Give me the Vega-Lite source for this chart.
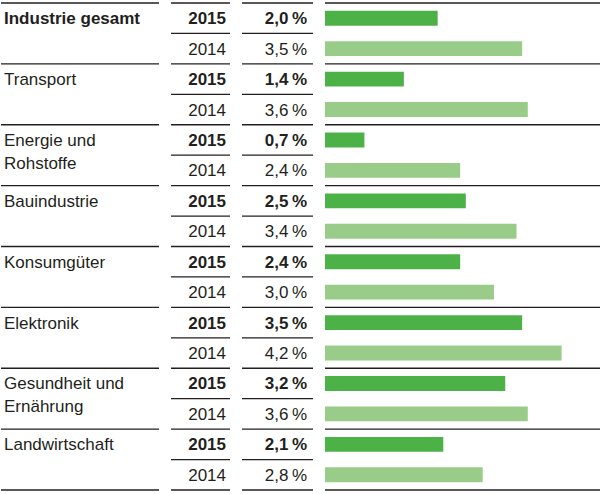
{
  "$schema": "https://vega.github.io/schema/vega-lite/v6.json",
  "padding": {"left": 0, "top": 2, "right": 0, "bottom": 0},
  "spacing": 12,
  "bounds": "flush",
  "config": {
    "view": {"stroke": null},
    "locale": {"number": {"decimal": ",", "thousands": ".", "grouping": [3], "currency": ["", "\u2009%"]}},
    "text": {"font": "Liberation Sans", "fontSize": 17, "color": "#231f20", "lineBreak": "\n", "lineHeight": 23},
    "rule": {"color": "#231f20", "strokeWidth": 1.3}
  },
  "datasets": {
    "rows": [
      {"id": "Industrie gesamt 2015", "category": "Industrie gesamt", "label": "Industrie gesamt", "year": "2015", "value": 2.0},
      {"id": "Industrie gesamt 2014", "category": "Industrie gesamt", "label": "Industrie gesamt", "year": "2014", "value": 3.5},
      {"id": "Transport 2015", "category": "Transport", "label": "Transport", "year": "2015", "value": 1.4},
      {"id": "Transport 2014", "category": "Transport", "label": "Transport", "year": "2014", "value": 3.6},
      {"id": "Energie und Rohstoffe 2015", "category": "Energie und Rohstoffe", "label": "Energie und\nRohstoffe", "year": "2015", "value": 0.7},
      {"id": "Energie und Rohstoffe 2014", "category": "Energie und Rohstoffe", "label": "Energie und\nRohstoffe", "year": "2014", "value": 2.4},
      {"id": "Bauindustrie 2015", "category": "Bauindustrie", "label": "Bauindustrie", "year": "2015", "value": 2.5},
      {"id": "Bauindustrie 2014", "category": "Bauindustrie", "label": "Bauindustrie", "year": "2014", "value": 3.4},
      {"id": "Konsumgüter 2015", "category": "Konsumgüter", "label": "Konsumgüter", "year": "2015", "value": 2.4},
      {"id": "Konsumgüter 2014", "category": "Konsumgüter", "label": "Konsumgüter", "year": "2014", "value": 3.0},
      {"id": "Elektronik 2015", "category": "Elektronik", "label": "Elektronik", "year": "2015", "value": 3.5},
      {"id": "Elektronik 2014", "category": "Elektronik", "label": "Elektronik", "year": "2014", "value": 4.2},
      {"id": "Gesundheit und Ernährung 2015", "category": "Gesundheit und Ernährung", "label": "Gesundheit und\nErnährung", "year": "2015", "value": 3.2},
      {"id": "Gesundheit und Ernährung 2014", "category": "Gesundheit und Ernährung", "label": "Gesundheit und\nErnährung", "year": "2014", "value": 3.6},
      {"id": "Landwirtschaft 2015", "category": "Landwirtschaft", "label": "Landwirtschaft", "year": "2015", "value": 2.1},
      {"id": "Landwirtschaft 2014", "category": "Landwirtschaft", "label": "Landwirtschaft", "year": "2014", "value": 2.8}
    ]
  },
  "hconcat": [
    {
      "width": 158,
      "height": 487,
      "data": {"name": "rows"},
      "encoding": {
        "y": {"field": "id", "type": "nominal", "axis": null, "scale": {"type": "band", "paddingInner": 0, "paddingOuter": 0, "domain": ["Industrie gesamt 2015", "Industrie gesamt 2014", "Transport 2015", "Transport 2014", "Energie und Rohstoffe 2015", "Energie und Rohstoffe 2014", "Bauindustrie 2015", "Bauindustrie 2014", "Konsumgüter 2015", "Konsumgüter 2014", "Elektronik 2015", "Elektronik 2014", "Gesundheit und Ernährung 2015", "Gesundheit und Ernährung 2014", "Landwirtschaft 2015", "Landwirtschaft 2014"]}}
      },
      "layer": [
        {
          "transform": [{"filter": "datum.year == '2015'"}],
          "mark": "rule",
          "encoding": {"y": {"field": "id", "type": "nominal", "bandPosition": 0}}
        },
        {
          "transform": [{"filter": "datum.id == 'Landwirtschaft 2014'"}],
          "mark": "rule",
          "encoding": {"y": {"field": "id", "type": "nominal", "bandPosition": 1}}
        },
        {
          "transform": [{"filter": "datum.year == '2015' && datum.category != 'Industrie gesamt'"}],
          "mark": {"type": "text", "align": "left", "baseline": "top", "dx": 3, "dy": -7},
          "encoding": {
            "x": {"datum": 0, "type": "quantitative", "scale": {"domain": [0, 1]}, "axis": null},
            "text": {"field": "label"}
          }
        },
        {
          "transform": [{"filter": "datum.year == '2015' && datum.category == 'Industrie gesamt'"}],
          "mark": {"type": "text", "align": "left", "baseline": "top", "dx": 3, "dy": -7, "fontWeight": "bold"},
          "encoding": {
            "x": {"datum": 0, "type": "quantitative", "scale": {"domain": [0, 1]}, "axis": null},
            "text": {"field": "label"}
          }
        }
      ]
    },
    {
      "width": 59,
      "height": 487,
      "data": {"name": "rows"},
      "encoding": {
        "y": {"field": "id", "type": "nominal", "axis": null, "scale": {"type": "band", "paddingInner": 0, "paddingOuter": 0, "domain": ["Industrie gesamt 2015", "Industrie gesamt 2014", "Transport 2015", "Transport 2014", "Energie und Rohstoffe 2015", "Energie und Rohstoffe 2014", "Bauindustrie 2015", "Bauindustrie 2014", "Konsumgüter 2015", "Konsumgüter 2014", "Elektronik 2015", "Elektronik 2014", "Gesundheit und Ernährung 2015", "Gesundheit und Ernährung 2014", "Landwirtschaft 2015", "Landwirtschaft 2014"]}}
      },
      "layer": [
        {
          "mark": "rule",
          "encoding": {"y": {"field": "id", "type": "nominal", "bandPosition": 0}}
        },
        {
          "transform": [{"filter": "datum.id == 'Landwirtschaft 2014'"}],
          "mark": "rule",
          "encoding": {"y": {"field": "id", "type": "nominal", "bandPosition": 1}}
        },
        {
          "transform": [{"filter": "datum.year == '2015'"}],
          "mark": {"type": "text", "align": "right", "baseline": "middle", "dx": -4, "dy": 1, "fontWeight": "bold"},
          "encoding": {
            "x": {"datum": 1, "type": "quantitative", "scale": {"domain": [0, 1]}, "axis": null},
            "text": {"field": "year"}
          }
        },
        {
          "transform": [{"filter": "datum.year == '2014'"}],
          "mark": {"type": "text", "align": "right", "baseline": "middle", "dx": -4, "dy": 1},
          "encoding": {
            "x": {"datum": 1, "type": "quantitative", "scale": {"domain": [0, 1]}, "axis": null},
            "text": {"field": "year"}
          }
        }
      ]
    },
    {
      "width": 71,
      "height": 487,
      "data": {"name": "rows"},
      "encoding": {
        "y": {"field": "id", "type": "nominal", "axis": null, "scale": {"type": "band", "paddingInner": 0, "paddingOuter": 0, "domain": ["Industrie gesamt 2015", "Industrie gesamt 2014", "Transport 2015", "Transport 2014", "Energie und Rohstoffe 2015", "Energie und Rohstoffe 2014", "Bauindustrie 2015", "Bauindustrie 2014", "Konsumgüter 2015", "Konsumgüter 2014", "Elektronik 2015", "Elektronik 2014", "Gesundheit und Ernährung 2015", "Gesundheit und Ernährung 2014", "Landwirtschaft 2015", "Landwirtschaft 2014"]}}
      },
      "layer": [
        {
          "mark": "rule",
          "encoding": {"y": {"field": "id", "type": "nominal", "bandPosition": 0}}
        },
        {
          "transform": [{"filter": "datum.id == 'Landwirtschaft 2014'"}],
          "mark": "rule",
          "encoding": {"y": {"field": "id", "type": "nominal", "bandPosition": 1}}
        },
        {
          "transform": [{"filter": "datum.year == '2015'"}],
          "mark": {"type": "text", "align": "right", "baseline": "middle", "dx": -6, "dy": 1, "fontWeight": "bold"},
          "encoding": {
            "x": {"datum": 1, "type": "quantitative", "scale": {"domain": [0, 1]}, "axis": null},
            "text": {"field": "value", "type": "quantitative", "format": "$.1f"}
          }
        },
        {
          "transform": [{"filter": "datum.year == '2014'"}],
          "mark": {"type": "text", "align": "right", "baseline": "middle", "dx": -6, "dy": 1},
          "encoding": {
            "x": {"datum": 1, "type": "quantitative", "scale": {"domain": [0, 1]}, "axis": null},
            "text": {"field": "value", "type": "quantitative", "format": "$.1f"}
          }
        }
      ]
    },
    {
      "width": 276,
      "height": 487,
      "data": {"name": "rows"},
      "encoding": {
        "y": {"field": "id", "type": "nominal", "axis": null, "scale": {"type": "band", "paddingInner": 0, "paddingOuter": 0, "domain": ["Industrie gesamt 2015", "Industrie gesamt 2014", "Transport 2015", "Transport 2014", "Energie und Rohstoffe 2015", "Energie und Rohstoffe 2014", "Bauindustrie 2015", "Bauindustrie 2014", "Konsumgüter 2015", "Konsumgüter 2014", "Elektronik 2015", "Elektronik 2014", "Gesundheit und Ernährung 2015", "Gesundheit und Ernährung 2014", "Landwirtschaft 2015", "Landwirtschaft 2014"]}}
      },
      "layer": [
        {
          "transform": [{"filter": "datum.year == '2015'"}],
          "mark": "rule",
          "encoding": {"y": {"field": "id", "type": "nominal", "bandPosition": 0}}
        },
        {
          "transform": [{"filter": "datum.id == 'Landwirtschaft 2014'"}],
          "mark": "rule",
          "encoding": {"y": {"field": "id", "type": "nominal", "bandPosition": 1}}
        },
        {
          "mark": {"type": "bar", "height": {"band": 0.49}},
          "encoding": {
            "x": {"field": "value", "type": "quantitative", "scale": {"domain": [0, 4.9], "nice": false, "zero": true}, "axis": null},
            "color": {"field": "year", "type": "nominal", "scale": {"domain": ["2015", "2014"], "range": ["#4cb147", "#99cc88"]}, "legend": null}
          }
        }
      ]
    }
  ]
}
